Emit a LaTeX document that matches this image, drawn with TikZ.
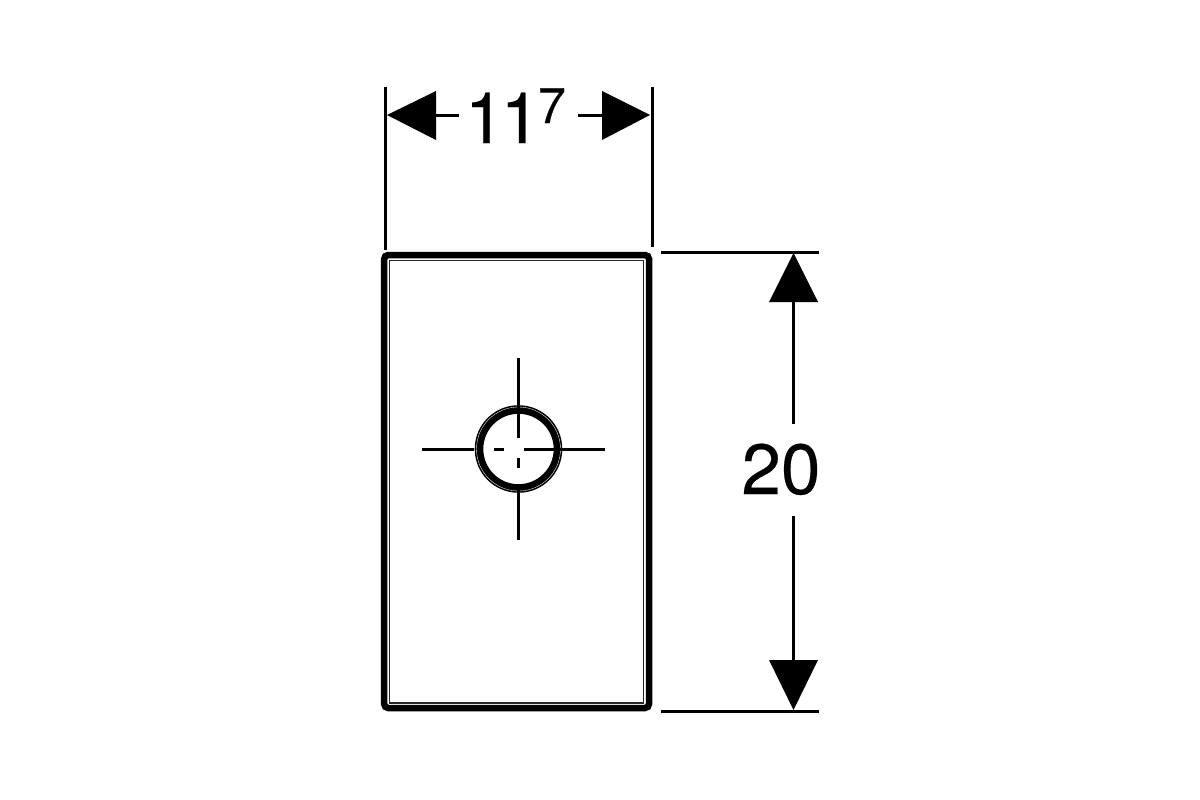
\documentclass[tikz,border=0pt]{standalone}
\usepackage{fontspec}
\setmainfont{TeX Gyre Heros}
\newfontfamily\dimfont[FakeBold=0.3]{TeX Gyre Heros}
\tikzset{
  x=1pt,y=-1pt,
  dimline/.style={line width=3pt,black},
  crossline/.style={line width=3pt,black},
  dimhead/.style={fill=black,draw=none},
  dimtext/.style={inner sep=0pt,outer sep=0pt,font=\fontsize{71pt}{71pt}\dimfont,text=black},
  suptext/.style={inner sep=0pt,outer sep=0pt,font=\fontsize{50pt}{50pt}\dimfont,text=black}
}
\begin{document}
\begin{tikzpicture}
\useasboundingbox (0,0) rectangle (1200,800);
\fill[white] (0,0) rectangle (1200,800);
% plate
\draw[line width=6.5pt,rounded corners=4pt] (384.2,255) rectangle (649,708);
\draw[line width=1.2pt,black!85] (389.4,260.2) rectangle (643.8,703);
% hole
\coordinate (hole) at (518.5,449);
\draw[line width=8.6pt] (hole) circle[radius=39.5];
\draw[line width=.35pt,white] (hole) circle[radius=42];
% centre cross
\coordinate (ct) at (518.5,358);
\coordinate (ctb) at (518.5,438);
\coordinate (cd1) at (518.5,458);
\coordinate (cd2) at (518.5,468);
\coordinate (cb1) at (518.5,490);
\coordinate (cb2) at (518.5,540);
\coordinate (cl1) at (422,449);
\coordinate (cl2) at (474,449);
\coordinate (cl3) at (494,449);
\coordinate (cl4) at (504,449);
\coordinate (cr1) at (524,449);
\coordinate (cr2) at (605,449);
\draw[crossline] (ct) -- (ctb);
\draw[crossline] (cd1) -- (cd2);
\draw[crossline] (cb1) -- (cb2);
\draw[crossline] (cl1) -- (cl2);
\draw[crossline] (cl3) -- (cl4);
\draw[crossline] (cr1) -- (cr2);
% width dimension
\coordinate (wl1) at (385.5,87);
\coordinate (wl2) at (385.5,250);
\coordinate (wr1) at (652,87);
\coordinate (wr2) at (652,247);
\draw[dimline] (wl1) -- (wl2);
\draw[dimline] (wr1) -- (wr2);
\fill[dimhead] (387,115) -- (436,91) -- (436,140) -- cycle;
\fill[dimhead] (650,115) -- (602,91) -- (602,140) -- cycle;
\coordinate (wa1) at (436,115);
\coordinate (wa2) at (459,115);
\coordinate (wb1) at (578,115);
\coordinate (wb2) at (602,115);
\draw[dimline] (wa1) -- (wa2);
\draw[dimline] (wb1) -- (wb2);
\node[dimtext,anchor=base west] (wtext) at (465,143) {\addfontfeature{LetterSpace=-5.5}11};
\node[suptext,anchor=base west] (wsup) at (538,123) {7};
% height dimension
\coordinate (ht1) at (661,252);
\coordinate (ht2) at (819,252);
\coordinate (hb1) at (661,711);
\coordinate (hb2) at (819,711);
\draw[dimline] (ht1) -- (ht2);
\draw[dimline] (hb1) -- (hb2);
\fill[dimhead] (793.5,253) -- (769,302) -- (818,302) -- cycle;
\fill[dimhead] (793.5,710) -- (769,660) -- (818,660) -- cycle;
\coordinate (hv1) at (793.5,302);
\coordinate (hv2) at (793.5,424);
\coordinate (hv3) at (793.5,516);
\coordinate (hv4) at (793.5,660);
\draw[dimline] (hv1) -- (hv2);
\draw[dimline] (hv3) -- (hv4);
\node[dimtext,anchor=base] (htext) at (781,494) {20};
\end{tikzpicture}
\end{document}
